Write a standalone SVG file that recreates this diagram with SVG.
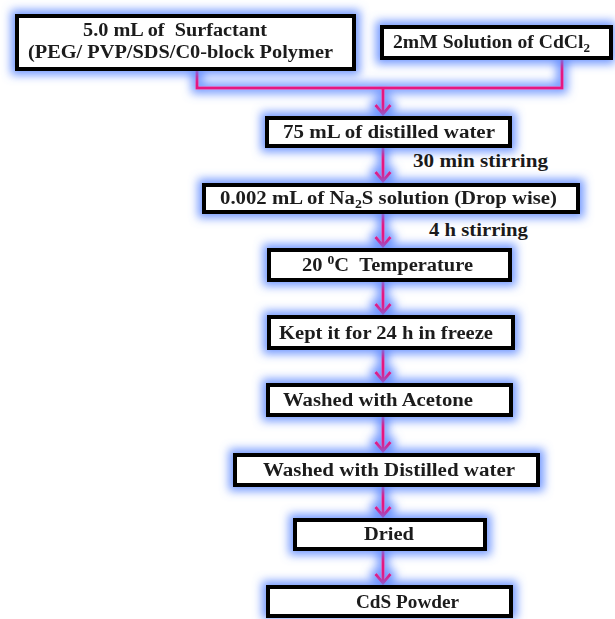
<svg xmlns="http://www.w3.org/2000/svg" width="615" height="619" viewBox="0 0 615 619">
<style>
.box{fill:#ffffff;stroke:#000000;stroke-width:4}
.t{font-family:"Liberation Serif","Times New Roman",serif;font-weight:bold;font-size:18px;fill:#1a1a1a}
.lbl{font-family:"Liberation Serif","Times New Roman",serif;font-weight:bold;font-size:18px;fill:#1a1a1a}
.c{fill:none;stroke:#e6177f;stroke-width:3}
.sub{font-size:12px}
</style>
<defs>
<filter id="glow" filterUnits="userSpaceOnUse" x="0" y="0" width="615" height="619">
<feMorphology in="SourceAlpha" operator="dilate" radius="3.5" result="d"/>
<feGaussianBlur in="d" stdDeviation="5" result="b"/>
<feFlood flood-color="#5a86ff" flood-opacity="0.85"/>
<feComposite in2="b" operator="in" result="g"/>
<feMerge><feMergeNode in="g"/><feMergeNode in="SourceGraphic"/></feMerge>
</filter>
<marker id="arr" viewBox="0 0 12 18" refX="10" refY="9" markerWidth="12" markerHeight="18" markerUnits="userSpaceOnUse" orient="auto">
<polyline points="1,1.5 10,9 1,16.5" fill="none" stroke="#e6177f" stroke-width="3"/>
</marker>
</defs>
<rect width="615" height="619" fill="#ffffff"/>
<g id="connectors" filter="url(#glow)">
<polyline class="c" points="197,71 197,88 562,88 562,60"/>
<line class="c" x1="383" y1="88" x2="383" y2="114" marker-end="url(#arr)"/>
<line class="c" x1="383" y1="148" x2="383" y2="181" marker-end="url(#arr)"/>
<line class="c" x1="383" y1="214" x2="383" y2="246" marker-end="url(#arr)"/>
<line class="c" x1="383" y1="282" x2="383" y2="313" marker-end="url(#arr)"/>
<line class="c" x1="383" y1="350" x2="383" y2="381" marker-end="url(#arr)"/>
<line class="c" x1="383" y1="417" x2="383" y2="451" marker-end="url(#arr)"/>
<line class="c" x1="383" y1="487" x2="383" y2="516" marker-end="url(#arr)"/>
<line class="c" x1="383" y1="551" x2="383" y2="583" marker-end="url(#arr)"/>
</g>
<g id="n1" filter="url(#glow)">
<rect class="box" x="17" y="16" width="337" height="53"/>
<text class="t" x="83" y="36" textLength="184" lengthAdjust="spacingAndGlyphs">5.0 mL of &#160;Surfactant</text>
<text class="t" x="28" y="58" textLength="305" lengthAdjust="spacingAndGlyphs">(PEG/ PVP/SDS/C0-block Polymer</text>
</g>
<g id="n2" filter="url(#glow)">
<rect class="box" x="382" y="27" width="229" height="31"/>
<text class="t" x="393" y="48" textLength="197" lengthAdjust="spacingAndGlyphs">2mM Solution of CdCl<tspan class="sub" dy="4">2</tspan></text>
</g>
<g id="n3" filter="url(#glow)">
<rect class="box" x="267" y="118" width="243" height="28"/>
<text class="t" x="283" y="138" textLength="212" lengthAdjust="spacingAndGlyphs">75 mL of distilled water</text>
</g>
<text class="lbl" x="413" y="167" textLength="135" lengthAdjust="spacingAndGlyphs">30 min stirring</text>
<g id="n4" filter="url(#glow)">
<rect class="box" x="204" y="185" width="374" height="27"/>
<text class="t" x="220" y="204" textLength="337" lengthAdjust="spacingAndGlyphs">0.002 mL of Na<tspan class="sub" dy="4">2</tspan><tspan dy="-4">S solution (Drop wise)</tspan></text>
</g>
<text class="lbl" x="429" y="236" textLength="99" lengthAdjust="spacingAndGlyphs">4 h stirring</text>
<g id="n5" filter="url(#glow)">
<rect class="box" x="269" y="250" width="241" height="30"/>
<text class="t" x="302" y="271" textLength="171" lengthAdjust="spacingAndGlyphs">20 <tspan class="sub" dy="-7">0</tspan><tspan dy="7">C &#160;Temperature</tspan></text>
</g>
<g id="n6" filter="url(#glow)">
<rect class="box" x="269" y="317" width="244" height="31"/>
<text class="t" x="279" y="339" textLength="214" lengthAdjust="spacingAndGlyphs">Kept it for 24 h in freeze</text>
</g>
<g id="n7" filter="url(#glow)">
<rect class="box" x="268" y="385" width="243" height="30"/>
<text class="t" x="283" y="406" textLength="190" lengthAdjust="spacingAndGlyphs">Washed with Acetone</text>
</g>
<g id="n8" filter="url(#glow)">
<rect class="box" x="235" y="455" width="303" height="30"/>
<text class="t" x="263" y="476" textLength="252" lengthAdjust="spacingAndGlyphs">Washed with Distilled water</text>
</g>
<g id="n9" filter="url(#glow)">
<rect class="box" x="295" y="520" width="190" height="29"/>
<text class="t" x="364" y="540" textLength="50" lengthAdjust="spacingAndGlyphs">Dried</text>
</g>
<g id="n10" filter="url(#glow)">
<rect class="box" x="268" y="587" width="243" height="29"/>
<text class="t" x="356" y="608" textLength="103" lengthAdjust="spacingAndGlyphs">CdS Powder</text>
</g>
</svg>
